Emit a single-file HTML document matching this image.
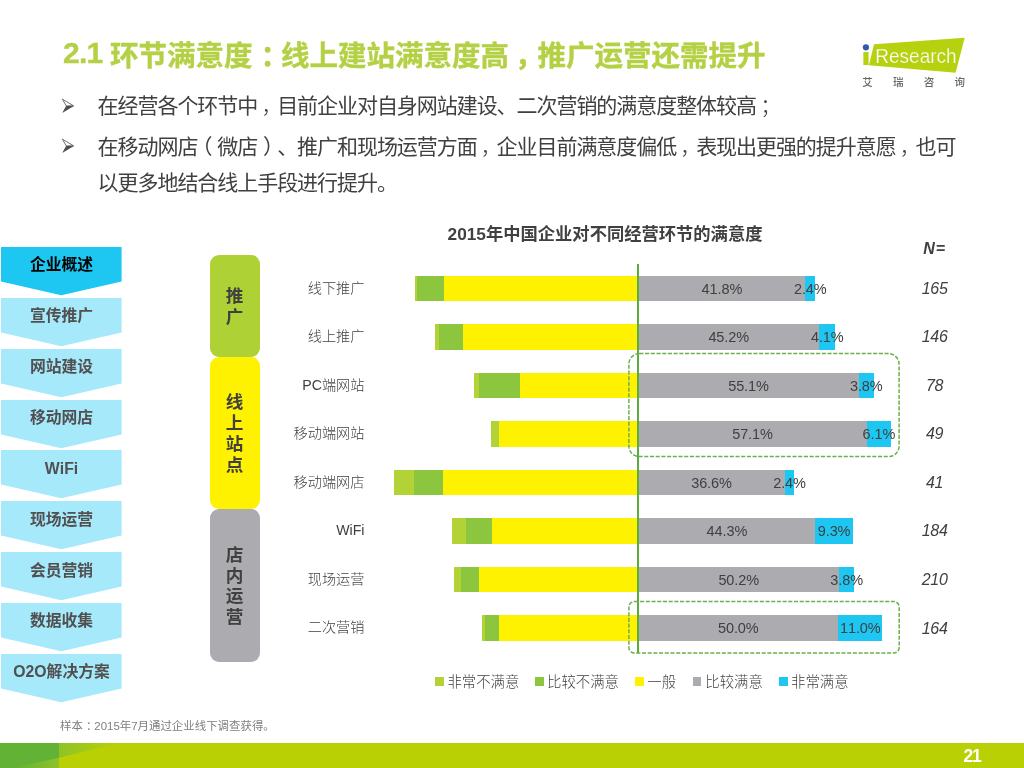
<!DOCTYPE html>
<html lang="zh-CN">
<head>
<meta charset="utf-8">
<title>2.1 环节满意度</title>
<style>
html,body{margin:0;padding:0;background:#fff;}
body{text-spacing-trim:space-all;font-kerning:none;width:1024px;height:768px;position:relative;overflow:hidden;font-family:"Liberation Sans","Noto Sans CJK SC",sans-serif;color:#404040;}
.abs{position:absolute;white-space:nowrap;}
#title{left:63px;top:35.5px;font-size:28.5px;line-height:40px;font-weight:bold;color:#b4d044;-webkit-text-stroke:0.35px #b4d044;letter-spacing:0;}
.body{font-size:21px;line-height:36px;color:#404040;left:97.6px;letter-spacing:-1.05px;}
.pc{position:relative;left:.28em}.pm{position:relative;left:.2em}.ps{position:relative;left:.2em}.pl{position:relative;left:-.28em}.pr{position:relative;left:.28em}
.body .pm,.body .ps{font-weight:300}
.tn{position:relative;top:-2.2px;font-size:30px;letter-spacing:-0.7px;margin-right:-0.6px}
.bul{left:61px;width:16px;height:16px;}
#ctitle{left:405px;width:400px;text-align:center;top:221.7px;font-size:17.3px;line-height:24px;font-weight:bold;color:#404040;}
.nav{left:1px;width:121px;height:48px;}
.nav svg{position:absolute;left:0;top:0;}
.nav span{position:absolute;left:0;top:7.5px;width:121px;text-align:center;font-size:15.8px;line-height:22px;font-weight:bold;color:#505050;}
.pill{left:209.5px;width:50px;border-radius:9px;display:flex;align-items:center;justify-content:center;}
.pill span{display:block;width:18px;font-size:17.6px;line-height:20.7px;padding-top:1.8px;font-weight:bold;color:#404040;text-align:center;white-space:normal;word-break:break-all;}
.cat{right:659.5px;font-weight:300;font-size:14.2px;line-height:20px;color:#404040;text-align:right;}
.seg{position:absolute;}
.dl{font-size:14.5px;letter-spacing:-0.1px;line-height:20px;color:#404040;text-align:center;width:60px;}
.nn{font-size:16px;letter-spacing:-0.3px;line-height:20px;color:#404040;font-style:italic;text-align:center;width:60px;left:904.6px;}
.lg{font-weight:300;font-size:14.4px;line-height:20px;top:671.6px;color:#404040;}
.lgs{position:absolute;width:8.7px;height:8.6px;top:677px;}
#foot{left:60px;top:716.6px;font-size:11.45px;line-height:18px;color:#7f7f7f;}
#pn{left:950px;width:44px;text-align:center;top:746px;font-size:17.5px;letter-spacing:-1.2px;line-height:20px;font-weight:bold;color:#fff;}
</style>
</head>
<body>
<div id="title" class="abs"><span class="tn">2.1</span> 环节满意度<span class="pc">：</span>线上建站满意度高<span class="pm">，</span>推广运营还需提升</div>
<svg class="abs bul" style="top:97.8px" viewBox="0 0 16 16"><path d="M5.1 8 L12.9 7.9 L1.2 15.1 Z" fill="#4d4d4d"/><path d="M1.4 1.2 L12.6 7.8 L5.3 7.9 Z" fill="none" stroke="#4d4d4d" stroke-width="0.8" stroke-linejoin="miter"/></svg>
<div class="abs body" style="top:88.4px">在经营各个环节中<span class="pm">，</span>目前企业对自身网站建设、二次营销的满意度整体较高<span class="ps">；</span></div>
<svg class="abs bul" style="top:137.8px" viewBox="0 0 16 16"><path d="M5.1 8 L12.9 7.9 L1.2 15.1 Z" fill="#4d4d4d"/><path d="M1.4 1.2 L12.6 7.8 L5.3 7.9 Z" fill="none" stroke="#4d4d4d" stroke-width="0.8" stroke-linejoin="miter"/></svg>
<div class="abs body" style="top:129px">在移动网店<span class="pl">（</span>微店<span class="pr">）</span>、推广和现场运营方面<span class="pm">，</span>企业目前满意度偏低<span class="pm">，</span>表现出更强的提升意愿<span class="pm">，</span>也可</div>
<div class="abs body" style="top:165px">以更多地结合线上手段进行提升。</div>
<svg class="abs" style="left:855px;top:30px" width="120" height="65" viewBox="855 30 120 65">
<polygon points="874,44.2 964.7,37.7 955.6,72.8 868.9,65.3" fill="#b5d10f"/>
<text transform="translate(860.8,64.5) scale(1.55,1)" x="0" y="0" font-family="'Liberation Sans',sans-serif" font-weight="bold" font-size="24.3" fill="#b5d10f">i</text>
<circle cx="865.9" cy="47.3" r="3.1" fill="#2a5fa8"/>
<text x="875.2" y="63" font-family="'Liberation Sans',sans-serif" font-size="20.3" fill="#fff" stroke="#b5d10f" stroke-width="0.25" textLength="81.5" lengthAdjust="spacingAndGlyphs">Research</text>
<g font-family="'Noto Sans CJK SC',sans-serif" font-size="10.5" font-weight="500" fill="#666">
<text x="862.3" y="86.3" letter-spacing="20.2">艾瑞咨询</text>
</g>
</svg>
<div id="ctitle" class="abs">2015年中国企业对不同经营环节的满意度</div>
<div class="abs nav" style="top:246.9px"><svg width="121" height="49" viewBox="0 0 121 49"><polygon points="0,0 120.6,0 120.6,34.6 60.3,48.2 0,34.6" fill="#1ec6f2"/></svg><span style="color:#000">企业概述</span></div>
<div class="abs nav" style="top:297.8px"><svg width="121" height="49" viewBox="0 0 121 49"><polygon points="0,0 120.6,0 120.6,34.6 60.3,48.2 0,34.6" fill="#a6e9fa"/></svg><span>宣传推广</span></div>
<div class="abs nav" style="top:348.6px"><svg width="121" height="49" viewBox="0 0 121 49"><polygon points="0,0 120.6,0 120.6,34.6 60.3,48.2 0,34.6" fill="#a6e9fa"/></svg><span>网站建设</span></div>
<div class="abs nav" style="top:399.5px"><svg width="121" height="49" viewBox="0 0 121 49"><polygon points="0,0 120.6,0 120.6,34.6 60.3,48.2 0,34.6" fill="#a6e9fa"/></svg><span>移动网店</span></div>
<div class="abs nav" style="top:450.3px"><svg width="121" height="49" viewBox="0 0 121 49"><polygon points="0,0 120.6,0 120.6,34.6 60.3,48.2 0,34.6" fill="#a6e9fa"/></svg><span>WiFi</span></div>
<div class="abs nav" style="top:501.2px"><svg width="121" height="49" viewBox="0 0 121 49"><polygon points="0,0 120.6,0 120.6,34.6 60.3,48.2 0,34.6" fill="#a6e9fa"/></svg><span>现场运营</span></div>
<div class="abs nav" style="top:552.1px"><svg width="121" height="49" viewBox="0 0 121 49"><polygon points="0,0 120.6,0 120.6,34.6 60.3,48.2 0,34.6" fill="#a6e9fa"/></svg><span>会员营销</span></div>
<div class="abs nav" style="top:602.9px"><svg width="121" height="49" viewBox="0 0 121 49"><polygon points="0,0 120.6,0 120.6,34.6 60.3,48.2 0,34.6" fill="#a6e9fa"/></svg><span>数据收集</span></div>
<div class="abs nav" style="top:653.8px"><svg width="121" height="49" viewBox="0 0 121 49"><polygon points="0,0 120.6,0 120.6,34.6 60.3,48.2 0,34.6" fill="#a6e9fa"/></svg><span>O2O解决方案</span></div>
<div class="abs pill" style="top:255.2px;height:101.5px;background:#aed136"><span>推广</span></div>
<div class="abs pill" style="top:356.7px;height:152.5px;background:#fff200"><span>线上站点</span></div>
<div class="abs pill" style="top:509.2px;height:152.5px;background:#acabb0"><span>店内运营</span></div>
<div class="abs cat" style="top:277.5px">线下推广</div>
<div class="seg" style="left:414.9px;top:275.5px;width:223.4px;height:25.6px;background:#b2d235"></div><div class="seg" style="left:417.2px;top:275.5px;width:221.1px;height:25.6px;background:#8cc63f"></div><div class="seg" style="left:444.0px;top:275.5px;width:194.3px;height:25.6px;background:#fff200"></div><div class="seg" style="left:638.3px;top:275.5px;width:176.8px;height:25.6px;background:#1ec6f2"></div><div class="seg" style="left:638.3px;top:275.5px;width:167.2px;height:25.6px;background:#acabb0"></div>
<div class="abs dl" style="left:691.9px;top:278.6px">41.8%</div><div class="abs dl" style="left:780.3px;top:278.6px">2.4%</div><div class="abs nn" style="top:278.7px">165</div>
<div class="abs cat" style="top:326.1px">线上推广</div>
<div class="seg" style="left:435.1px;top:324.1px;width:203.2px;height:25.6px;background:#b2d235"></div><div class="seg" style="left:438.8px;top:324.1px;width:199.5px;height:25.6px;background:#8cc63f"></div><div class="seg" style="left:462.7px;top:324.1px;width:175.6px;height:25.6px;background:#fff200"></div><div class="seg" style="left:638.3px;top:324.1px;width:197.2px;height:25.6px;background:#1ec6f2"></div><div class="seg" style="left:638.3px;top:324.1px;width:180.8px;height:25.6px;background:#acabb0"></div>
<div class="abs dl" style="left:698.7px;top:327.2px">45.2%</div><div class="abs dl" style="left:797.3px;top:327.2px">4.1%</div><div class="abs nn" style="top:327.2px">146</div>
<div class="abs cat" style="top:374.6px">PC端网站</div>
<div class="seg" style="left:474.3px;top:372.6px;width:164.0px;height:25.6px;background:#b2d235"></div><div class="seg" style="left:479.3px;top:372.6px;width:159.0px;height:25.6px;background:#8cc63f"></div><div class="seg" style="left:520.4px;top:372.6px;width:117.9px;height:25.6px;background:#fff200"></div><div class="seg" style="left:638.3px;top:372.6px;width:235.6px;height:25.6px;background:#1ec6f2"></div><div class="seg" style="left:638.3px;top:372.6px;width:220.4px;height:25.6px;background:#acabb0"></div>
<div class="abs dl" style="left:718.5px;top:375.7px">55.1%</div><div class="abs dl" style="left:836.3px;top:375.7px">3.8%</div><div class="abs nn" style="top:375.8px">78</div>
<div class="abs cat" style="top:423.1px">移动端网站</div>
<div class="seg" style="left:491.2px;top:421.1px;width:147.1px;height:25.6px;background:#b2d235"></div><div class="seg" style="left:499.2px;top:421.1px;width:139.1px;height:25.6px;background:#8cc63f"></div><div class="seg" style="left:499.2px;top:421.1px;width:139.1px;height:25.6px;background:#fff200"></div><div class="seg" style="left:638.3px;top:421.1px;width:252.8px;height:25.6px;background:#1ec6f2"></div><div class="seg" style="left:638.3px;top:421.1px;width:228.4px;height:25.6px;background:#acabb0"></div>
<div class="abs dl" style="left:722.5px;top:424.2px">57.1%</div><div class="abs dl" style="left:848.9px;top:424.2px">6.1%</div><div class="abs nn" style="top:424.3px">49</div>
<div class="abs cat" style="top:471.7px">移动端网店</div>
<div class="seg" style="left:393.9px;top:469.7px;width:244.4px;height:25.6px;background:#b2d235"></div><div class="seg" style="left:413.9px;top:469.7px;width:224.4px;height:25.6px;background:#8cc63f"></div><div class="seg" style="left:442.8px;top:469.7px;width:195.5px;height:25.6px;background:#fff200"></div><div class="seg" style="left:638.3px;top:469.7px;width:156.0px;height:25.6px;background:#1ec6f2"></div><div class="seg" style="left:638.3px;top:469.7px;width:146.4px;height:25.6px;background:#acabb0"></div>
<div class="abs dl" style="left:681.5px;top:472.8px">36.6%</div><div class="abs dl" style="left:759.5px;top:472.8px">2.4%</div><div class="abs nn" style="top:472.9px">41</div>
<div class="abs cat" style="top:520.2px">WiFi</div>
<div class="seg" style="left:452.4px;top:518.2px;width:185.9px;height:25.6px;background:#b2d235"></div><div class="seg" style="left:465.7px;top:518.2px;width:172.6px;height:25.6px;background:#8cc63f"></div><div class="seg" style="left:491.6px;top:518.2px;width:146.7px;height:25.6px;background:#fff200"></div><div class="seg" style="left:638.3px;top:518.2px;width:214.4px;height:25.6px;background:#1ec6f2"></div><div class="seg" style="left:638.3px;top:518.2px;width:177.2px;height:25.6px;background:#acabb0"></div>
<div class="abs dl" style="left:696.9px;top:521.3px">44.3%</div><div class="abs dl" style="left:804.1px;top:521.3px">9.3%</div><div class="abs nn" style="top:521.4px">184</div>
<div class="abs cat" style="top:568.8px">现场运营</div>
<div class="seg" style="left:454.4px;top:566.8px;width:183.9px;height:25.6px;background:#b2d235"></div><div class="seg" style="left:460.7px;top:566.8px;width:177.6px;height:25.6px;background:#8cc63f"></div><div class="seg" style="left:479.3px;top:566.8px;width:159.0px;height:25.6px;background:#fff200"></div><div class="seg" style="left:638.3px;top:566.8px;width:216.0px;height:25.6px;background:#1ec6f2"></div><div class="seg" style="left:638.3px;top:566.8px;width:200.8px;height:25.6px;background:#acabb0"></div>
<div class="abs dl" style="left:708.7px;top:569.9px">50.2%</div><div class="abs dl" style="left:816.7px;top:569.9px">3.8%</div><div class="abs nn" style="top:569.9px">210</div>
<div class="abs cat" style="top:617.3px">二次营销</div>
<div class="seg" style="left:482.3px;top:615.3px;width:156.0px;height:25.6px;background:#b2d235"></div><div class="seg" style="left:484.6px;top:615.3px;width:153.7px;height:25.6px;background:#8cc63f"></div><div class="seg" style="left:499.2px;top:615.3px;width:139.1px;height:25.6px;background:#fff200"></div><div class="seg" style="left:638.3px;top:615.3px;width:244.0px;height:25.6px;background:#1ec6f2"></div><div class="seg" style="left:638.3px;top:615.3px;width:200.0px;height:25.6px;background:#acabb0"></div>
<div class="abs dl" style="left:708.3px;top:618.4px">50.0%</div><div class="abs dl" style="left:830.3px;top:618.4px">11.0%</div><div class="abs nn" style="top:618.5px">164</div>
<div class="abs nn" style="top:238.6px;font-weight:bold;letter-spacing:1px">N=</div>
<div class="seg" style="left:637.4px;top:264.3px;width:1.8px;height:389px;background:#5cab3e"></div>
<svg class="abs" style="left:0;top:0" width="1024" height="768" viewBox="0 0 1024 768"><g fill="none" stroke="#6ab04c" stroke-width="1.5" stroke-dasharray="4.1 1.6"><rect x="628.9" y="353.6" width="270.2" height="103" rx="10.5" ry="10.5"/><rect x="628.9" y="601.5" width="270.3" height="51.5" rx="5.5" ry="5.5"/></g></svg>
<div class="lgs" style="left:435.1px;background:#b2d235"></div><div class="abs lg" style="left:447.4px">非常不满意</div>
<div class="lgs" style="left:535.4px;background:#8cc63f"></div><div class="abs lg" style="left:547.0px">比较不满意</div>
<div class="lgs" style="left:635.3px;background:#fff200"></div><div class="abs lg" style="left:647.3px">一般</div>
<div class="lgs" style="left:692.7px;background:#acabb0"></div><div class="abs lg" style="left:705.3px">比较满意</div>
<div class="lgs" style="left:779.4px;background:#1ec6f2"></div><div class="abs lg" style="left:791.0px">非常满意</div>
<div id="foot" class="abs">样本<span class="pc">：</span>2015年7月通过企业线下调查获得。</div>
<svg class="abs" style="left:0;top:743px" width="1024" height="25" viewBox="0 0 1024 25">
<rect x="0" y="0" width="1024" height="25" fill="#b9d104"/>
<rect x="0" y="0" width="59" height="25" fill="#62b236"/>
<defs><linearGradient id="g1" x1="59" y1="0" x2="118" y2="0" gradientUnits="userSpaceOnUse"><stop offset="0" stop-color="#8fc228"/><stop offset="1" stop-color="#b9d104"/></linearGradient>
<linearGradient id="g2" x1="13" y1="0" x2="59" y2="0" gradientUnits="userSpaceOnUse"><stop offset="0" stop-color="#62b236"/><stop offset="1" stop-color="#8ec22a"/></linearGradient></defs>
<polygon points="59,0 119,0 59,14.7" fill="url(#g1)"/>
<polygon points="13,25 59,14.7 59,25" fill="url(#g2)"/>
</svg>
<div id="pn" class="abs">21</div>
</body>
</html>
